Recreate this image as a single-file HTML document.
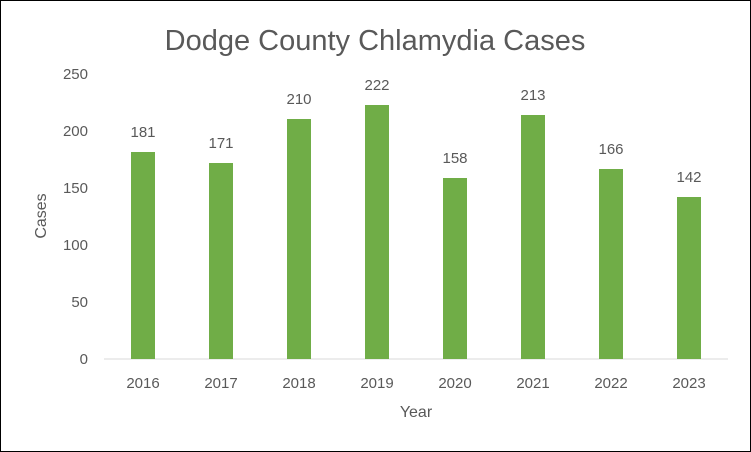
<!DOCTYPE html>
<html><head><style>
body{margin:0;background:#fff}
svg{display:block}
text{font-family:"Liberation Sans",sans-serif;fill:#595959}
</style></head><body>
<svg width="751" height="452" xmlns="http://www.w3.org/2000/svg">
<rect x="0.5" y="0.5" width="750" height="451" fill="#fff" stroke="#000" stroke-width="1"/>
<text x="375" y="50" font-size="29" text-anchor="middle">Dodge County Chlamydia Cases</text>
<g font-size="15" text-anchor="end">
<text x="88" y="364">0</text><text x="88" y="307">50</text><text x="88" y="250">100</text>
<text x="88" y="193">150</text><text x="88" y="136">200</text><text x="88" y="79">250</text>
</g>
<line x1="104" y1="359" x2="728" y2="359" stroke="#d9d9d9" stroke-width="1"/>
<g fill="#70ad47">
<rect x="131" y="152" width="24" height="207"/>
<rect x="209" y="163" width="24" height="196"/>
<rect x="287" y="119" width="24" height="240"/>
<rect x="365" y="105" width="24" height="254"/>
<rect x="443" y="178" width="24" height="181"/>
<rect x="521" y="115" width="24" height="244"/>
<rect x="599" y="169" width="24" height="190"/>
<rect x="677" y="197" width="24" height="162"/>
</g>
<g font-size="15" text-anchor="middle" fill="#404040">
<text x="143" y="137">181</text><text x="221" y="148">171</text><text x="299" y="104">210</text>
<text x="377" y="90">222</text><text x="455" y="163">158</text><text x="533" y="100">213</text>
<text x="611" y="154">166</text><text x="689" y="182">142</text>
</g>
<g font-size="15" text-anchor="middle">
<text x="143" y="388">2016</text><text x="221" y="388">2017</text><text x="299" y="388">2018</text>
<text x="377" y="388">2019</text><text x="455" y="388">2020</text><text x="533" y="388">2021</text>
<text x="611" y="388">2022</text><text x="689" y="388">2023</text>
</g>
<text x="416" y="417" font-size="16" text-anchor="middle">Year</text>
<text transform="translate(46,216) rotate(-90)" font-size="16" text-anchor="middle">Cases</text>
</svg>
</body></html>
